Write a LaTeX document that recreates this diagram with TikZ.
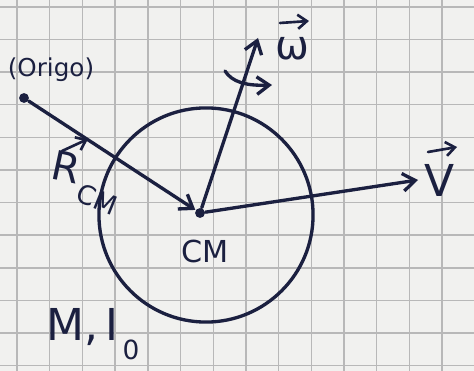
\documentclass[tikz,border=0pt]{standalone}
\usepackage{fontspec}
\setmainfont{DejaVu Sans}
\usetikzlibrary{arrows.meta}
\definecolor{inkc}{HTML}{1B2040}
\definecolor{paper}{HTML}{F1F1EF}
\definecolor{gridc}{HTML}{B8B8B8}
\begin{document}
\begin{tikzpicture}[x=0.01cm,y=-0.01cm,
  ink/.style={draw=inkc,line width=0.95pt,line cap=round,line join=round},
  vec/.style={ink,-{Straight Barb[length=3.5pt,width=5pt]}},
  ovec/.style={ink,line width=0.75pt,-{Straight Barb[length=2.6pt,width=4pt]}},
  dot/.style={circle,fill=inkc,inner sep=0pt,minimum size=2.8pt},
  lbl/.style={text=inkc,inner sep=0pt}]
\fill[paper] (0,0) rectangle (474,371);
\useasboundingbox (0,0) rectangle (474,371);
\foreach \i in {0,...,14} \draw[gridc,line width=0.4pt] ({17+32.7*\i},0) -- ({17+32.7*\i},371);
\foreach \j in {0,...,11} \draw[gridc,line width=0.4pt] (0,{7+32.6*\j}) -- (474,{7+32.6*\j});
% circle (body)
\draw[ink] (206,215) circle[radius=1.07cm];
% points
\node[dot] (o) at (24,98) {};
\node[dot] (cm) at (200,213) {};
\coordinate (wtip) at (258,38);
\coordinate (vtip) at (418,180);
\coordinate (cs) at (225,71);
\coordinate (ce) at (272,85);
% vectors
\draw[vec] (o) -- (cm);
\draw[vec] (cm) -- (wtip);
\draw[vec] (cm) -- (vtip);
\draw[vec] (cs) .. controls (232,82) and (246,86) .. (ce);
% labels
\node[lbl,font=\fontsize{7}{8}\selectfont] (origo) at (51,70) {(Origo)};
\node[lbl,font=\fontsize{11.5}{12}\selectfont] (wl) at (292,49) {ω};
\coordinate (wa1) at (280,23);
\coordinate (wa2) at (309,21);
\draw[ovec] (wa1) -- (wa2);
\node[lbl,font=\fontsize{12.5}{13}\selectfont] (vl) at (440,180) {V};
\coordinate (va1) at (428,152);
\coordinate (va2) at (457,147);
\draw[ovec] (va1) -- (va2);
\node[lbl,font=\fontsize{11.5}{12}\selectfont,rotate=-12] (rl) at (66,167) {R};
\node[lbl,font=\fontsize{7.5}{8}\selectfont,rotate=-22] (rs) at (97,199) {CM};
\coordinate (ra1) at (62,151);
\coordinate (ra2) at (88,139);
\draw[ovec] (ra1) -- (ra2);
\node[lbl,font=\fontsize{8.6}{10}\selectfont] (cml) at (205,251) {CM};
\node[lbl,font=\fontsize{12.5}{14}\selectfont,anchor=base west] (mi) at (46,340) {M,\,I};
\node[lbl,font=\fontsize{7.5}{8}\selectfont] (mi0) at (131,350) {0};
\end{tikzpicture}
\end{document}
